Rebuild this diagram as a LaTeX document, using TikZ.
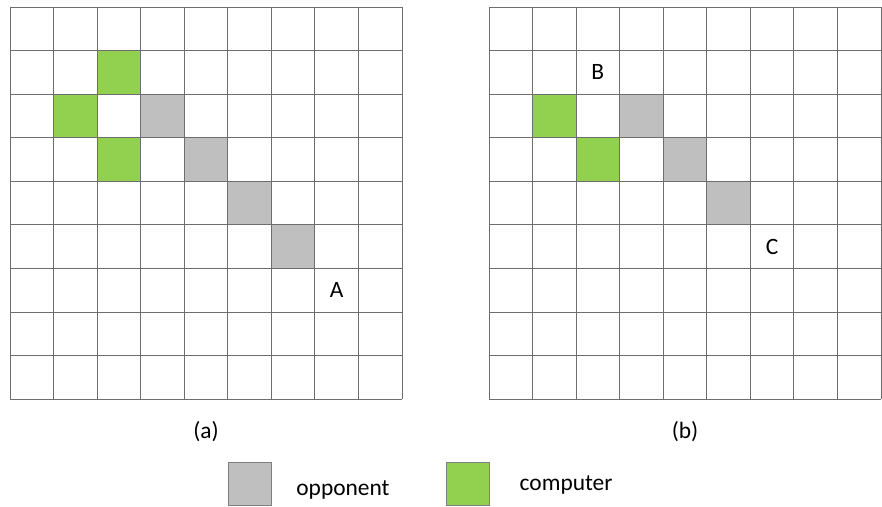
\documentclass[tikz,border=0pt]{standalone}
\usepackage{fontspec}
\setmainfont{Carlito}
\usepackage{xcolor}
\definecolor{stonegreen}{HTML}{92D050}
\definecolor{stonegray}{HTML}{BFBFBF}
\definecolor{gridgray}{HTML}{6E6E6E}
\definecolor{boxedge}{HTML}{7F7F7F}

\begin{document}
\begin{tikzpicture}[x=1.3065cm,y=-1.3065cm,
  gridline/.style={draw=gridgray,line width=0.6pt},
  labeltext/.style={font=\fontsize{20}{23}\selectfont,inner sep=0pt}]

\useasboundingbox (0,0) rectangle (20.253,11.619);

% board (a)
\begin{scope}[shift={(0.2296,0.1607)}]
\fill[stonegreen] (2,1) rectangle (3,2);
\fill[stonegreen] (1,2) rectangle (2,3);
\fill[stonegreen] (2,3) rectangle (3,4);
\foreach \c in {3,4,5,6} \fill[stonegray] (\c,\c-1) rectangle (\c+1,\c);
\foreach \k in {0,...,9} {
  \draw[gridline] (\k,0) -- (\k,9);
  \draw[gridline] (0,\k) -- (9,\k);
}
\node[labeltext] (markA) at (7.5,6.5) {A};
\end{scope}

% board (b)
\begin{scope}[shift={(11.228,0.1607)}]
\fill[stonegreen] (1,2) rectangle (2,3);
\fill[stonegreen] (2,3) rectangle (3,4);
\foreach \c in {3,4,5} \fill[stonegray] (\c,\c-1) rectangle (\c+1,\c);
\foreach \k in {0,...,9} {
  \draw[gridline] (\k,0) -- (\k,9);
  \draw[gridline] (0,\k) -- (9,\k);
}
\node[labeltext] (markB) at (2.5,1.5) {B};
\node[labeltext] (markC) at (6.5,5.5) {C};
\end{scope}

% captions
\node[labeltext] (capA) at (4.73,9.92) {(a)};
\node[labeltext] (capB) at (15.73,9.92) {(b)};

% legend
\draw[boxedge,fill=stonegray,line width=0.6pt] (5.235,10.609) rectangle (6.223,11.596);
\node[labeltext] (keyOpp) at (7.876,11.25) {opponent};
\draw[boxedge,fill=stonegreen,line width=0.6pt] (10.241,10.609) rectangle (11.228,11.596);
\node[labeltext] (keyComp) at (13.0,11.14) {computer};

\end{tikzpicture}
\end{document}
